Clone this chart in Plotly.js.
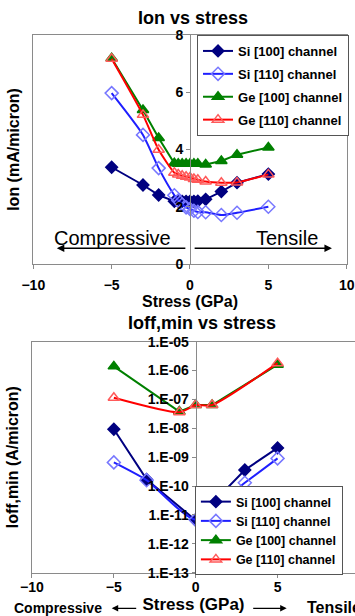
<!DOCTYPE html>
<html><head><meta charset="utf-8">
<script src="https://cdn.plot.ly/plotly-3.0.1.min.js"></script>
<style>html,body{margin:0;padding:0;background:#fff}#chart{width:355px;height:616px}</style>
</head><body><div id="chart"></div>
<script>
// ---- data ----
const seriesNames = ['Si [100] channel', 'Si [110] channel', 'Ge [100] channel', 'Ge [110] channel'];

// Ion vs stress (mA/micron)
const stressTop = [-5, -3, -2, -1, -0.75, -0.5, -0.25, 0, 0.25, 0.5, 1, 2, 3, 5];
const ionSi100 = [3.38, 2.76, 2.41, 2.19, 2.19, 2.19, 2.19, 2.19, 2.19, 2.20, 2.26, 2.53, 2.84, 3.14];
const ionSi110 = [5.97, 4.51, 3.35, 2.40, 2.22, 2.08, 1.98, 1.92, 1.86, 1.82, 1.81, 1.71, 1.79, 2.00];
const ionGe100 = [7.19, 5.38, 4.40, 3.52, 3.50, 3.50, 3.50, 3.50, 3.50, 3.50, 3.48, 3.60, 3.82, 4.07];
const ionGe110 = [7.17, 5.21, 3.99, 3.19, 3.13, 3.08, 3.05, 3.02, 2.97, 2.94, 2.88, 2.84, 2.85, 3.13];

// Ioff,min vs stress (A/micron)
const stressSi = [-5, -3, 0, 3, 5];
const stressGe = [-5, -1, 0, 1, 5];
const ioffSi100 = [9.3e-9, 1.7e-10, 6.5e-12, 3.6e-10, 2.1e-9];
const ioffSi110 = [6.6e-10, 1.6e-10, 6.8e-12, 1.3e-10, 9.1e-10];
const ioffGe100 = [1.4e-6, 3.8e-8, 6.4e-8, 6.4e-8, 1.6e-6];
const ioffGe110 = [1.15e-7, 3.6e-8, 6.4e-8, 6.4e-8, 1.8e-6];

// ticks
const stressTicks = [-10, -5, 0, 5, 10];
const ionTicks = [0, 2, 4, 6, 8];
const ioffTicks = [1e-13, 1e-12, 1e-11, 1e-10, 1e-9, 1e-8, 1e-7, 1e-6, 1e-5];
const ioffTickText = ['1.E-13', '1.E-12', '1.E-11', '1.E-10', '1.E-09', '1.E-08', '1.E-07', '1.E-06', '1.E-05'];

// ---- styles ----
const FONT = 'Liberation Sans, Arial, sans-serif';
const styles = [
  {line: '#000080', symbol: 'diamond', mcolor: '#000080', size: 9, shape: 'linear'},
  {line: '#1f1fff', symbol: 'diamond-open', mcolor: '#7777ff', size: 10, shape: 'spline'},
  {line: '#008000', symbol: 'triangle-up', mcolor: '#008000', size: 10, shape: 'linear'},
  {line: '#ff0000', symbol: 'triangle-up-open', mcolor: '#ff5a5a', size: 10, shape: 'spline'}
];
const topY = [ionSi100, ionSi110, ionGe100, ionGe110];
const botX = [stressSi, stressSi, stressGe, stressGe];
const botY = [ioffSi100, ioffSi110, ioffGe100, ioffGe110];

const traces = [];
seriesNames.forEach((name, i) => {
  const s = styles[i];
  traces.push({
    type: 'scatter', mode: 'lines+markers', name: name,
    x: stressTop, y: topY[i], xaxis: 'x', yaxis: 'y',
    legend: 'legend', legendgroup: 'top' + i,
    line: {color: s.line, width: 2, shape: s.shape, smoothing: 0.6},
    marker: {symbol: s.symbol, color: s.mcolor, size: s.size, line: {color: s.mcolor, width: 1.5}},
    cliponaxis: false
  });
});
seriesNames.forEach((name, i) => {
  const s = styles[i];
  traces.push({
    type: 'scatter', mode: 'lines+markers', name: name,
    x: botX[i], y: botY[i], xaxis: 'x2', yaxis: 'y2',
    legend: 'legend2',
    line: {color: s.line, width: 2, shape: s.shape, smoothing: 0.6},
    marker: {symbol: s.symbol, color: s.mcolor, size: s.size, line: {color: s.mcolor, width: 1.5}},
    cliponaxis: false
  });
});
// empty helper traces so the centred (x = 0) value axes are created
traces.push({type: 'scatter', x: [], y: [], xaxis: 'x', yaxis: 'y3', showlegend: false, hoverinfo: 'skip'});
traces.push({type: 'scatter', x: [], y: [], xaxis: 'x2', yaxis: 'y4', showlegend: false, hoverinfo: 'skip'});

const tickFont = {family: FONT, size: 14, weight: 700, color: '#000'};
const titleFont = {family: FONT, size: 16, weight: 700, color: '#000'};
const legendFont = {family: FONT, size: 13, weight: 700, color: '#000'};
const AX = '#8a8a8a';

const layout = {
  width: 355, height: 616,
  margin: {l: 0, r: 0, t: 0, b: 0},
  paper_bgcolor: '#fff', plot_bgcolor: '#fff',
  font: {family: FONT, color: '#000'},
  title: {text: 'Ion vs stress', x: 0.5437, y: 0.9708, xanchor: 'center', yanchor: 'middle',
          font: {family: FONT, size: 18, weight: 700, color: '#000'}},
  // ---- top subplot ----
  xaxis: {domain: [0.0938, 0.9766], range: [-10, 10], anchor: 'y',
          tickvals: stressTicks, ticks: 'outside', ticklen: 4, tickcolor: AX,
          showline: true, linecolor: AX, linewidth: 1, mirror: true,
          showgrid: false, zeroline: false, tickfont: tickFont, ticklabelstandoff: 4,
          title: {text: 'Stress (GPa)', font: titleFont, standoff: 2}, automargin: false},
  yaxis: {domain: [0.5714, 0.9432], range: [0, 8], anchor: 'x',
          showline: true, linecolor: AX, mirror: true, ticks: '', showticklabels: false,
          showgrid: false, zeroline: false,
          title: {text: 'Ion (mA/micron)', font: titleFont, standoff: 8}, automargin: false},
  yaxis3: {overlaying: 'y', range: [0, 8], anchor: 'free', position: 0.5352, side: 'left',
           tickvals: ionTicks, ticks: 'outside', ticklen: 4, tickcolor: AX,
           showline: true, linecolor: AX, showgrid: false, zeroline: false,
           tickfont: tickFont, automargin: false},
  // ---- bottom subplot ----
  xaxis2: {domain: [0.0901, 1], range: [-10, 9.73], anchor: 'y2',
           tickvals: stressTicks, ticks: 'outside', ticklen: 4, tickcolor: AX,
           showline: true, linecolor: AX, mirror: true,
           showgrid: false, zeroline: false, tickfont: tickFont, ticklabelstandoff: -2,
           title: {text: 'Stress (GPa)', font: {family: FONT, size: 17, weight: 700, color: '#000'}, standoff: 3},
           automargin: false},
  yaxis2: {domain: [0.0703, 0.4453], type: 'log', range: [-13, -5], anchor: 'x2',
           showline: true, linecolor: AX, ticks: '', showticklabels: false,
           showgrid: false, zeroline: false,
           title: {text: 'Ioff,min (A/micron)', font: titleFont, standoff: 8}, automargin: false},
  yaxis4: {overlaying: 'y2', type: 'log', range: [-13, -5], anchor: 'free', position: 0.5513, side: 'left',
           tickvals: ioffTicks, ticktext: ioffTickText, ticks: 'outside', ticklen: 4, tickcolor: AX,
           showline: true, linecolor: AX, showgrid: false, zeroline: false,
           tickfont: tickFont, automargin: false},
  legend: {x: 0.555, y: 0.9432, xanchor: 'left', yanchor: 'top', bgcolor: '#fff',
           bordercolor: '#555', borderwidth: 1, traceorder: 'grouped', tracegroupgap: 3,
           font: legendFont},
  legend2: {x: 0.549, y: 1 - 486 / 616, xanchor: 'left', yanchor: 'top', bgcolor: '#fff',
            bordercolor: '#555', borderwidth: 1, traceorder: 'normal',
            font: {family: FONT, size: 12.5, weight: 700, color: '#000'}},
  annotations: [
    {text: 'Compressive', xref: 'x', yref: 'y', x: -4.92, y: 0.91, showarrow: false,
     font: {family: FONT, size: 20, color: '#000'}, xanchor: 'center', yanchor: 'middle'},
    {text: 'Tensile', xref: 'x', yref: 'y', x: 6.22, y: 0.91, showarrow: false,
     font: {family: FONT, size: 20, color: '#000'}, xanchor: 'center', yanchor: 'middle'},
    {text: '', xref: 'x', yref: 'y', x: -8.5, y: 0.55, axref: 'x', ayref: 'y', ax: -0.2, ay: 0.55,
     showarrow: true, arrowhead: 2, arrowsize: 1, arrowwidth: 1.5, arrowcolor: '#000'},
    {text: '', xref: 'x', yref: 'y', x: 9.06, y: 0.55, axref: 'x', ayref: 'y', ax: 0.2, ay: 0.55,
     showarrow: true, arrowhead: 2, arrowsize: 1, arrowwidth: 1.5, arrowcolor: '#000'},
    {text: 'Ioff,min vs stress', xref: 'paper', yref: 'paper', x: 0.568, y: 0.4756,
     showarrow: false, xanchor: 'center', yanchor: 'middle',
     font: {family: FONT, size: 18, weight: 700, color: '#000'}},
    {text: 'Compressive', xref: 'paper', yref: 'paper', x: 103.5 / 355, y: 1 - 608.3 / 616,
     showarrow: false, xanchor: 'right', yanchor: 'middle',
     font: {family: FONT, size: 14, weight: 700, color: '#000'}},
    {text: 'Tensile', xref: 'paper', yref: 'paper', x: 305 / 355, y: 1 - 607.5 / 616,
     showarrow: false, xanchor: 'left', yanchor: 'middle',
     font: {family: FONT, size: 16, weight: 700, color: '#000'}},
    {text: '', xref: 'paper', yref: 'paper', x: 111.7 / 355, y: 1 - 608.3 / 616, ax: 26, ay: 0,
     showarrow: true, arrowhead: 2, arrowsize: 1, arrowwidth: 1.3, arrowcolor: '#000'},
    {text: '', xref: 'paper', yref: 'paper', x: 286.7 / 355, y: 1 - 608.3 / 616, ax: -35, ay: 0,
     showarrow: true, arrowhead: 2, arrowsize: 1, arrowwidth: 1.3, arrowcolor: '#000'}
  ]
};

Plotly.newPlot('chart', traces, layout, {staticPlot: true, displayModeBar: false});
</script>
</body></html>
